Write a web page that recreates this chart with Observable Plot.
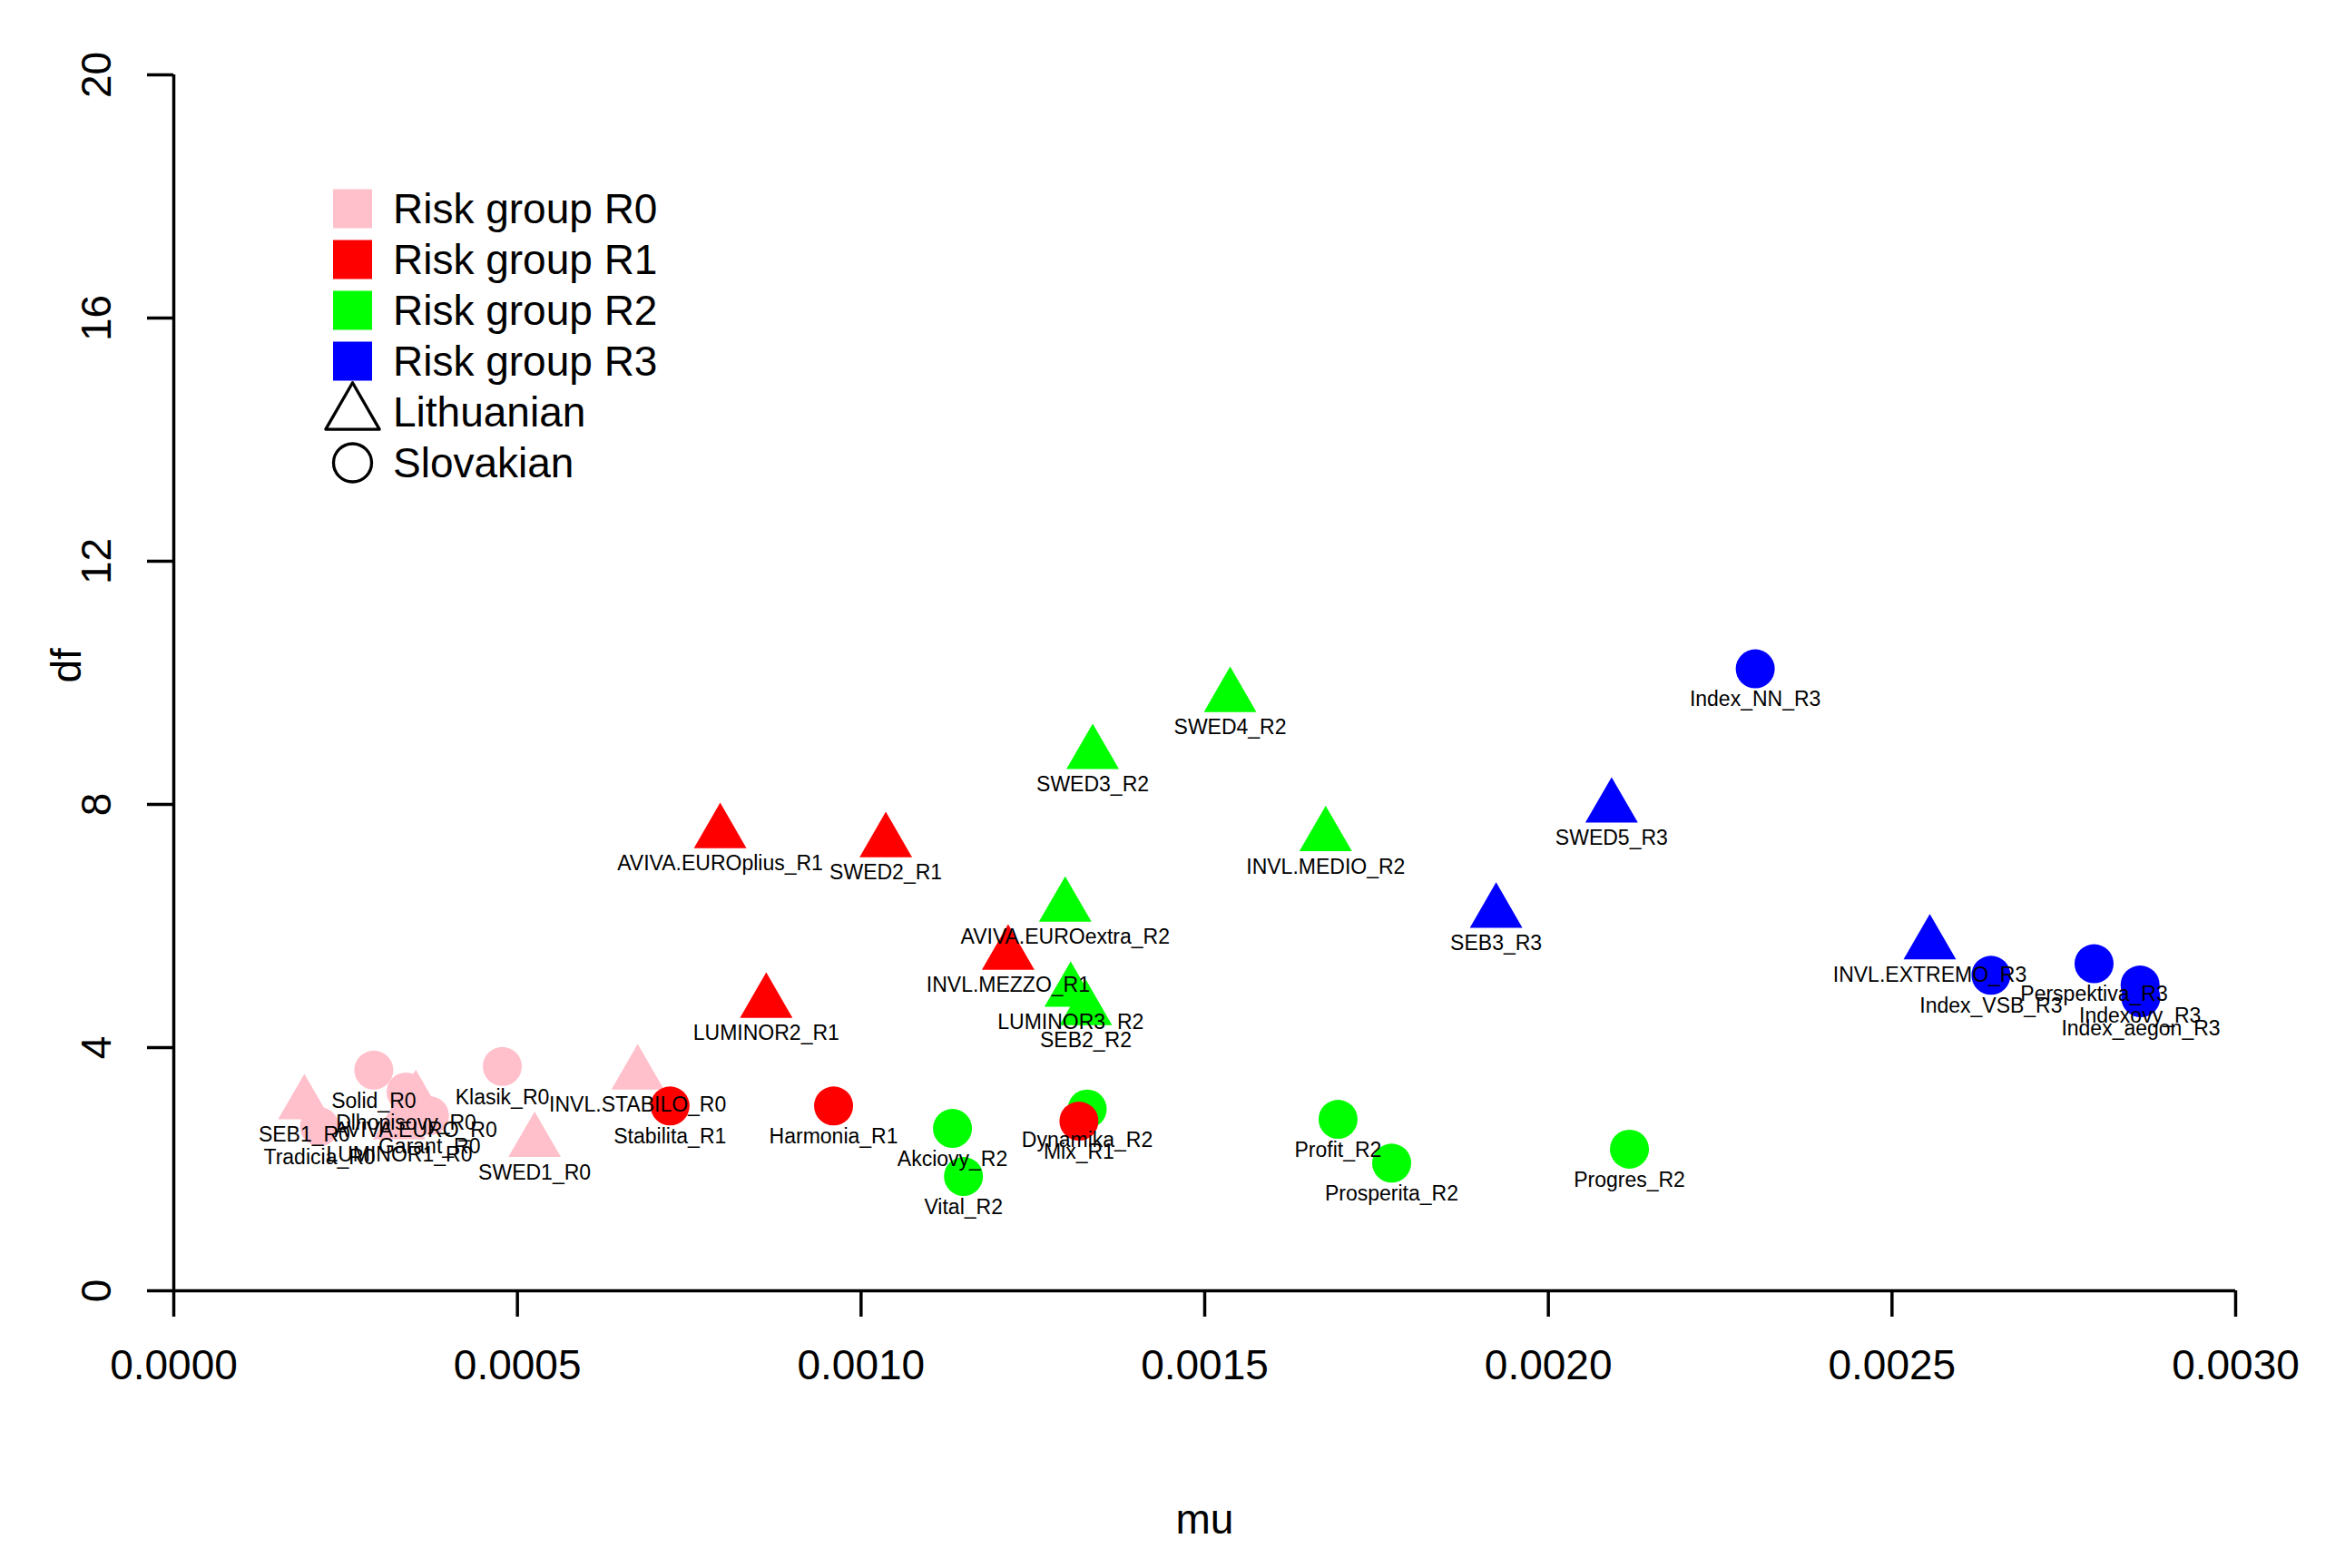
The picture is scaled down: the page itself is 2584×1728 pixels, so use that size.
<!DOCTYPE html>
<html>
<head>
<meta charset="utf-8">
<script src="https://cdn.jsdelivr.net/npm/d3@7"></script>
<script src="https://cdn.jsdelivr.net/npm/@observablehq/plot@0.6"></script>
<style>
  html, body { margin: 0; padding: 0; background: white; }
  #wrap { position: relative; width: 2584px; height: 1728px; }
  #legend { position: absolute; left: 0; top: 0; }
</style>
</head>
<body>
<div id="wrap"></div>
<script>
// ---- data ----
const names = [
  // Lithuanian funds
  "SEB1_R0", "AVIVA.EURO_R0", "LUMINOR1_R0", "SWED1_R0", "INVL.STABILO_R0",
  "AVIVA.EUROplius_R1", "SWED2_R1", "INVL.MEZZO_R1", "LUMINOR2_R1",
  "SWED3_R2", "SWED4_R2", "INVL.MEDIO_R2", "AVIVA.EUROextra_R2", "LUMINOR3_R2", "SEB2_R2",
  "SWED5_R3", "SEB3_R3", "INVL.EXTREMO_R3",
  // Slovakian funds
  "Solid_R0", "Dlhopisovy_R0", "Garant_R0", "Tradicia_R0", "Klasik_R0",
  "Stabilita_R1", "Harmonia_R1",
  "Akciovy_R2", "Vital_R2", "Dynamika_R2", "Mix_R1", "Profit_R2", "Prosperita_R2", "Progres_R2",
  "Index_NN_R3", "Index_VSB_R3", "Perspektiva_R3", "Indexovy_R3", "Index_aegon_R3"
];
const mu = [
  0.000190, 0.000352, 0.000328, 0.000525, 0.000675,
  0.000795, 0.001036, 0.001214, 0.000862,
  0.001337, 0.001537, 0.001676, 0.001297, 0.001305, 0.001327,
  0.002092, 0.001924, 0.002555,
  0.000291, 0.000338, 0.000372, 0.000212, 0.000478,
  0.000722, 0.000960,
  0.001133, 0.001149, 0.001329, 0.001317, 0.001694, 0.001772, 0.002118,
  0.002301, 0.002644, 0.002794, 0.002861, 0.002862
];
const df = [
  3.07, 3.14, 2.74, 2.45, 3.56,
  7.53, 7.38, 5.53, 4.74,
  8.83, 9.77, 7.48, 6.32, 4.92, 4.62,
  7.95, 6.22, 5.70,
  3.63, 3.27, 2.88, 2.70, 3.69,
  3.04, 3.04,
  2.67, 1.88, 2.99, 2.79, 2.82, 2.10, 2.33,
  10.23, 5.19, 5.38, 5.03, 4.82
];
const groupOf = [
  "R0", "R0", "R0", "R0", "R0",
  "R1", "R1", "R1", "R1",
  "R2", "R2", "R2", "R2", "R2", "R2",
  "R3", "R3", "R3",
  "R0", "R0", "R0", "R0", "R0",
  "R1", "R1",
  "R2", "R2", "R2", "R1", "R2", "R2", "R2",
  "R3", "R3", "R3", "R3", "R3"
];
const countryOf = names.map((_, i) => i < 18 ? "Lithuanian" : "Slovakian");

const groups = ["R0", "R1", "R2", "R3"];
const groupColors = ["#FFC0CB", "#FF0000", "#00FF00", "#0000FF"];
const countries = ["Lithuanian", "Slovakian"];
const legendLabels = ["Risk group R0", "Risk group R1", "Risk group R2", "Risk group R3", "Lithuanian", "Slovakian"];

const xTicks = [0, 0.0005, 0.0010, 0.0015, 0.0020, 0.0025, 0.0030];
const yTicks = [0, 4, 8, 12, 16, 20];

const points = names.map((n, i) => ({name: n, mu: mu[i], df: df[i], group: groupOf[i], country: countryOf[i]}));

const FONT = "'Liberation Sans', Arial, Helvetica, sans-serif";
const R = 21.5;

const chart = Plot.plot({
  width: 2584,
  height: 1728,
  marginLeft: 191,
  marginRight: 121,
  marginTop: 82,
  marginBottom: 306,
  x: {domain: [0, 0.003]},
  y: {domain: [0, 20]},
  color: {domain: groups, range: groupColors},
  symbol: {domain: countries, range: ["triangle", "circle"]},
  style: {fontFamily: FONT, background: "white", color: "black"},
  marks: [
    // axis lines
    Plot.ruleY([0], {stroke: "black", strokeWidth: 3.5}),
    Plot.ruleX([0], {stroke: "black", strokeWidth: 3.5}),
    // ticks
    Plot.axisX({ticks: xTicks, tickSize: 29, tickFormat: () => "", strokeWidth: 3.5, anchor: "bottom", label: null}),
    Plot.axisY({ticks: yTicks, tickSize: 29, tickFormat: () => "", strokeWidth: 3.5, anchor: "left", label: null}),
    // tick labels
    Plot.text(xTicks, {x: d => d, text: d => d3.format(".4f")(d), frameAnchor: "bottom", dy: 83, fontSize: 46, lineAnchor: "middle", fill: "black"}),
    Plot.text(yTicks, {y: d => d, text: d => String(d), frameAnchor: "left", dx: -84, rotate: -90, fontSize: 46, textAnchor: "middle", lineAnchor: "middle", fill: "black"}),
    // axis titles
    Plot.text(["mu"], {text: d => d, frameAnchor: "bottom", dy: 253, fontSize: 46, lineAnchor: "middle", fill: "black"}),
    Plot.text(["df"], {text: d => d, frameAnchor: "left", dx: -117, rotate: -90, fontSize: 46, lineAnchor: "middle", fill: "black"}),
    // points
    Plot.dot(points, {x: "mu", y: "df", fill: "group", symbol: "country", r: R, stroke: "none"}),
    // point labels
    Plot.text(points, {x: "mu", y: "df", text: "name", dy: 34, fontSize: 23, lineAnchor: "middle", fill: "black"})
  ]
});

const wrap = document.getElementById("wrap");
wrap.appendChild(chart);

// legend (inside the plot region, top-left)
const leg = d3.select(wrap).append("svg")
  .attr("id", "legend")
  .attr("width", 2584).attr("height", 1728)
  .style("font-family", FONT);
const rowY = i => 230 + 56 * i;
const swX = 388.5;
legendLabels.forEach((lab, i) => {
  const y = rowY(i);
  if (i < 4) {
    leg.append("rect").attr("x", swX - 21.5).attr("y", y - 21.5).attr("width", 43).attr("height", 43)
      .attr("fill", groupColors[i]);
  } else if (i === 4) {
    leg.append("path").attr("d", d3.symbol(d3.symbolTriangle, Math.PI * 22 * 22)())
      .attr("transform", `translate(${swX},${y + 2})`)
      .attr("fill", "none").attr("stroke", "black").attr("stroke-width", 3.3).attr("stroke-linejoin", "round");
  } else {
    leg.append("circle").attr("cx", swX).attr("cy", y).attr("r", 21)
      .attr("fill", "none").attr("stroke", "black").attr("stroke-width", 3.3);
  }
  leg.append("text").attr("x", 433).attr("y", y).attr("dominant-baseline", "central")
    .attr("font-size", 46).attr("fill", "black").text(lab);
});
</script>
</body>
</html>
